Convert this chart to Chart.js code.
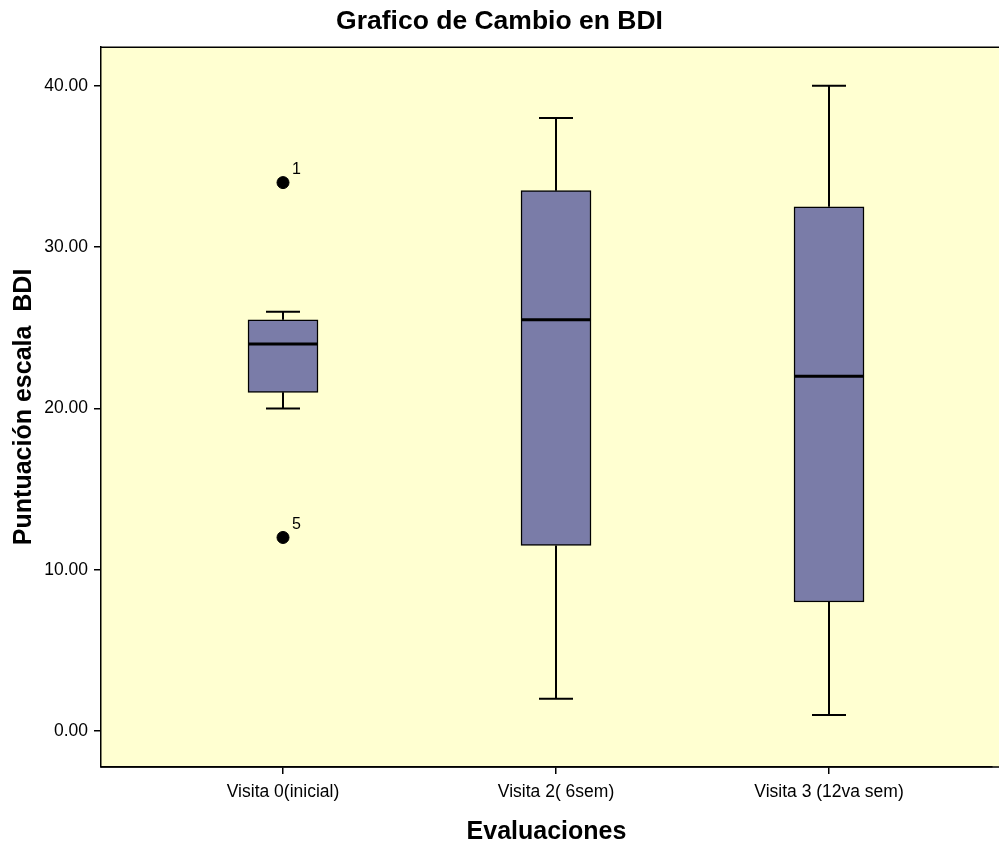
<!DOCTYPE html>
<html>
<head>
<meta charset="utf-8">
<script src="https://cdn.jsdelivr.net/npm/chart.js@4.4.0/dist/chart.umd.min.js"></script>
<style>
html,body{margin:0;padding:0;background:#fff;}
#wrap{width:999px;height:846px;position:relative;}
</style>
</head>
<body>
<div id="wrap"><canvas id="c" width="999" height="846"></canvas></div>
<script>
const categories = ["Visita 0(inicial)", "Visita 2( 6sem)", "Visita 3 (12va sem)"];
const whiskerLow  = [20, 2, 1];
const q1Values    = [21, 11.5, 8];
const medians     = [24, 25.5, 22];
const q3Values    = [25.5, 33.5, 32.5];
const whiskerHigh = [26, 38, 40];
const outlierCat  = [0, 0];
const outlierVal  = [34, 12];
const outlierIds  = ["1", "5"];
const yTicks      = [0, 10, 20, 30, 40];

const FONT = "'Liberation Sans', Arial, sans-serif";
const BG = "#FFFFD1";
const BOX = "#7A7CA8";

const boxData = categories.map((c, i) => ({x: i, y: [q1Values[i], q3Values[i]]}));
const outData = outlierCat.map((c, i) => ({x: c, y: outlierVal[i], id: outlierIds[i]}));

const boxPlugin = {
  id: 'boxExtras',
  beforeDraw(chart) {
    const {ctx, chartArea: a} = chart;
    ctx.save();
    ctx.fillStyle = BG;
    ctx.fillRect(a.left, a.top, chart.width - a.left, a.bottom - a.top);
    ctx.restore();
  },
  beforeDatasetsDraw(chart) {
    const {ctx} = chart;
    const xs = chart.scales.x, ys = chart.scales.y;
    ctx.save();
    ctx.strokeStyle = '#000';
    ctx.lineWidth = 2;
    const capHalf = 17;
    categories.forEach((c, i) => {
      const px = Math.round(xs.getPixelForValue(i));
      const yLo = ys.getPixelForValue(whiskerLow[i]);
      const yQ1 = ys.getPixelForValue(q1Values[i]);
      const yQ3 = ys.getPixelForValue(q3Values[i]);
      const yHi = ys.getPixelForValue(whiskerHigh[i]);
      ctx.beginPath();
      ctx.moveTo(px, yHi); ctx.lineTo(px, yQ3);
      ctx.moveTo(px, yQ1); ctx.lineTo(px, yLo);
      ctx.moveTo(px - capHalf, yHi); ctx.lineTo(px + capHalf, yHi);
      ctx.moveTo(px - capHalf, yLo); ctx.lineTo(px + capHalf, yLo);
      ctx.stroke();
    });
    ctx.restore();
  },
  afterDatasetsDraw(chart) {
    const {ctx, chartArea: a} = chart;
    const xs = chart.scales.x, ys = chart.scales.y;
    ctx.save();
    ctx.strokeStyle = '#000';
    ctx.lineWidth = 3;
    categories.forEach((c, i) => {
      const px = xs.getPixelForValue(i);
      const ym = ys.getPixelForValue(medians[i]);
      ctx.beginPath();
      ctx.moveTo(px - 35, ym); ctx.lineTo(px + 35, ym);
      ctx.stroke();
    });
    ctx.fillStyle = '#000';
    ctx.font = "16px " + FONT;
    ctx.textAlign = 'left';
    ctx.textBaseline = 'middle';
    outData.forEach(o => {
      const px = xs.getPixelForValue(o.x);
      const py = ys.getPixelForValue(o.y);
      ctx.fillText(o.id, px + 9, py - 13);
    });
    ctx.lineWidth = 1.5;
    ctx.beginPath();
    ctx.moveTo(a.left, a.top + 0.5); ctx.lineTo(chart.width, a.top + 0.5);
    ctx.moveTo(a.left, a.bottom); ctx.lineTo(chart.width, a.bottom);
    ctx.stroke();
    ctx.restore();
  }
};

new Chart(document.getElementById('c'), {
  type: 'bar',
  data: {
    datasets: [
      {
        type: 'bar',
        data: boxData,
        backgroundColor: BOX,
        borderColor: '#000',
        borderWidth: 1.5,
        borderSkipped: false,
        barThickness: 70,
        order: 2
      },
      {
        type: 'scatter',
        data: outData,
        backgroundColor: '#000',
        borderColor: '#000',
        pointRadius: 6,
        order: 1
      }
    ]
  },
  options: {
    responsive: false,
    animation: false,
    layout: {padding: {left: 0, right: 0, top: 0, bottom: 0}},
    plugins: {
      legend: {display: false},
      tooltip: {enabled: false},
      title: {
        display: true,
        text: 'Grafico de Cambio en BDI',
        color: '#000',
        font: {family: FONT, size: 26.5, weight: 'bold'},
        padding: {top: 6, bottom: 9}
      }
    },
    scales: {
      x: {
        type: 'linear',
        offset: false,
        min: -0.6667,
        max: 2.597,
        afterBuildTicks(s) { s.ticks = [0, 1, 2].map(v => ({value: v})); },
        afterFit(s) { s.height = 79; s.paddingLeft = 0; s.paddingRight = 0; },
        ticks: {
          callback: (v) => categories[v],
          color: '#000',
          font: {family: FONT, size: 17.5},
          padding: 8,
          autoSkip: false,
          maxRotation: 0
        },
        grid: {offset: false, drawOnChartArea: false, drawTicks: true, tickLength: 7, color: '#000', lineWidth: 1.5},
        border: {display: true, color: '#000', width: 1.5},
        title: {
          display: true,
          text: 'Evaluaciones',
          color: '#000',
          font: {family: FONT, size: 25, weight: 'bold'},
          padding: {top: 0, bottom: -1}
        }
      },
      y: {
        type: 'linear',
        min: -2.23,
        max: 42.42,
        afterBuildTicks(s) { s.ticks = yTicks.map(v => ({value: v})); },
        afterFit(s) { s.width = 101; },
        ticks: {
          callback: (v) => v.toFixed(2),
          color: '#000',
          font: {family: FONT, size: 17.5},
          padding: 6
        },
        grid: {drawOnChartArea: false, drawTicks: true, tickLength: 7, color: '#000', lineWidth: 1.5},
        border: {display: true, color: '#000', width: 1.5},
        title: {
          display: true,
          text: 'Puntuación escala  BDI',
          color: '#000',
          font: {family: FONT, size: 25, weight: 'bold'},
          padding: {top: 9, bottom: 0}
        }
      }
    }
  },
  plugins: [boxPlugin]
});
</script>
</body>
</html>
